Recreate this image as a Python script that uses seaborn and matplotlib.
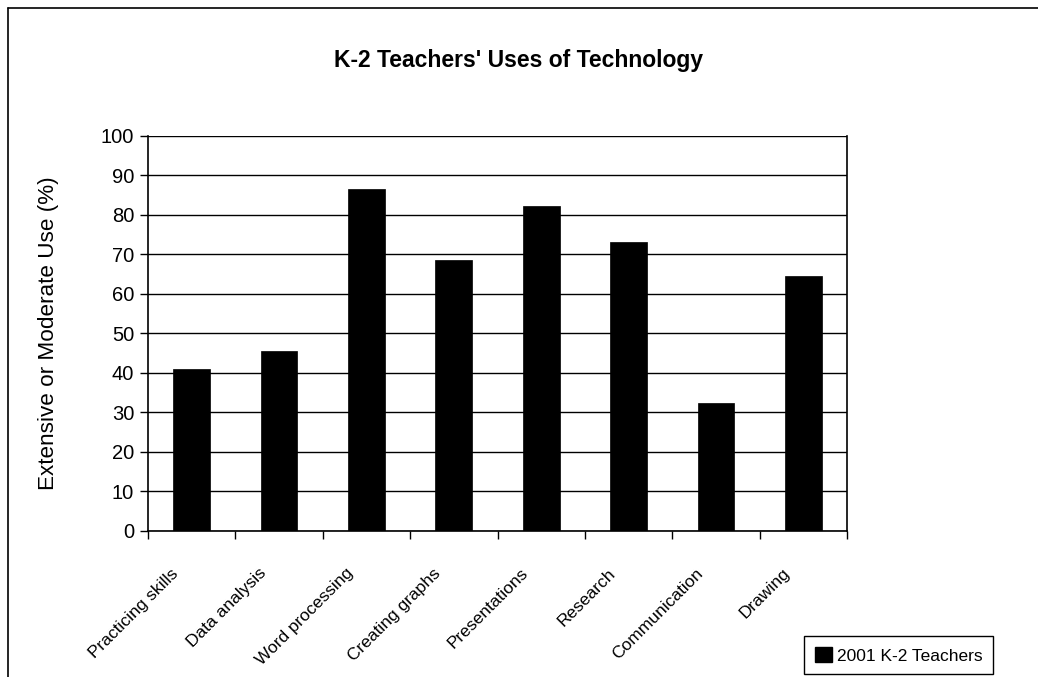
import pandas as pd
import matplotlib.pyplot as plt
import matplotlib.transforms as mtransforms
import seaborn as sns
from matplotlib.lines import Line2D

# Chart data
categories = ['Practicing skills', 'Data analysis', 'Word processing', 'Creating graphs',
              'Presentations', 'Research', 'Communication', 'Drawing']
values = [41, 45.5, 86.5, 68.6, 82.2, 73, 32.3, 64.5]
series_name = '2001 K-2 Teachers'
y_ticks = list(range(0, 101, 10))

df = pd.DataFrame({'category': categories, 'value': values, 'series': series_name})

sns.set_style('white')
plt.rcParams['font.family'] = ['Liberation Sans', 'DejaVu Sans']
plt.rcParams['text.color'] = 'black'
plt.rcParams['axes.labelcolor'] = 'black'
plt.rcParams['xtick.color'] = 'black'
plt.rcParams['ytick.color'] = 'black'

fig = plt.figure(figsize=(10.38, 6.77), dpi=100)
ax = fig.add_axes([0.1426, 0.2157, 0.6734, 0.584])

sns.barplot(data=df, x='category', y='value', hue='series', palette=['black'],
            width=0.42, ax=ax, legend=True, edgecolor='black', linewidth=0.5)

# Axes
ax.set_ylim(0, 100)
ax.set_xlim(-0.5, len(categories) - 0.5)
ax.set_yticks(y_ticks)
ax.set_yticklabels([str(t) for t in y_ticks], fontsize=14.5)
ax.yaxis.grid(True, color='black', linewidth=1)
ax.set_axisbelow(True)
ax.tick_params(axis='y', direction='out', length=6, width=1, color='black', left=True, pad=4)

# tick marks between categories, labels at centers
ax.set_xticks([i - 0.5 for i in range(len(categories) + 1)])
ax.set_xticklabels([])
ax.set_xticks(range(len(categories)), minor=True)
ax.set_xticklabels(categories, minor=True, rotation=45, ha='right',
                   rotation_mode='anchor', fontsize=12.5)
ax.tick_params(axis='x', which='major', direction='out', length=6, width=1,
               color='black', bottom=True)
ax.tick_params(axis='x', which='minor', length=0, pad=25)
shift = mtransforms.ScaledTranslation(-21 / 100, 0, fig.dpi_scale_trans)
for lbl in ax.get_xticklabels(minor=True):
    lbl.set_transform(lbl.get_transform() + shift)

for side in ['left', 'bottom', 'right']:
    ax.spines[side].set_color('black')
    ax.spines[side].set_linewidth(1.2)
ax.spines['top'].set_visible(False)

ax.set_xlabel('')
ax.set_ylabel('Extensive or Moderate Use (%)', fontsize=16.2)
ax.yaxis.set_label_coords(-0.128, 0.5)

fig.text(0.5, 0.91, "K-2 Teachers' Uses of Technology", ha='center', va='center',
         fontsize=16.5, fontweight='bold')

# Legend
ax.legend_.remove()
leg = fig.legend(handles=[plt.Rectangle((0, 0), 1, 1, color='black')], labels=[series_name],
                 loc='lower right', bbox_to_anchor=(0.957, 0.0045), fontsize=12.5,
                 frameon=True, fancybox=False, edgecolor='black', framealpha=1,
                 handlelength=1.0, handleheight=1.0, handletextpad=0.3,
                 borderpad=0.6, borderaxespad=0)
leg.get_frame().set_linewidth(1)

# Outer border lines (left and top)
fig.add_artist(Line2D([0.008, 0.008], [0, 0.988], transform=fig.transFigure,
                      color='black', linewidth=1.2))
fig.add_artist(Line2D([0.008, 1.0], [0.988, 0.988], transform=fig.transFigure,
                      color='black', linewidth=1.2))

fig.savefig('out.png', dpi=100)
